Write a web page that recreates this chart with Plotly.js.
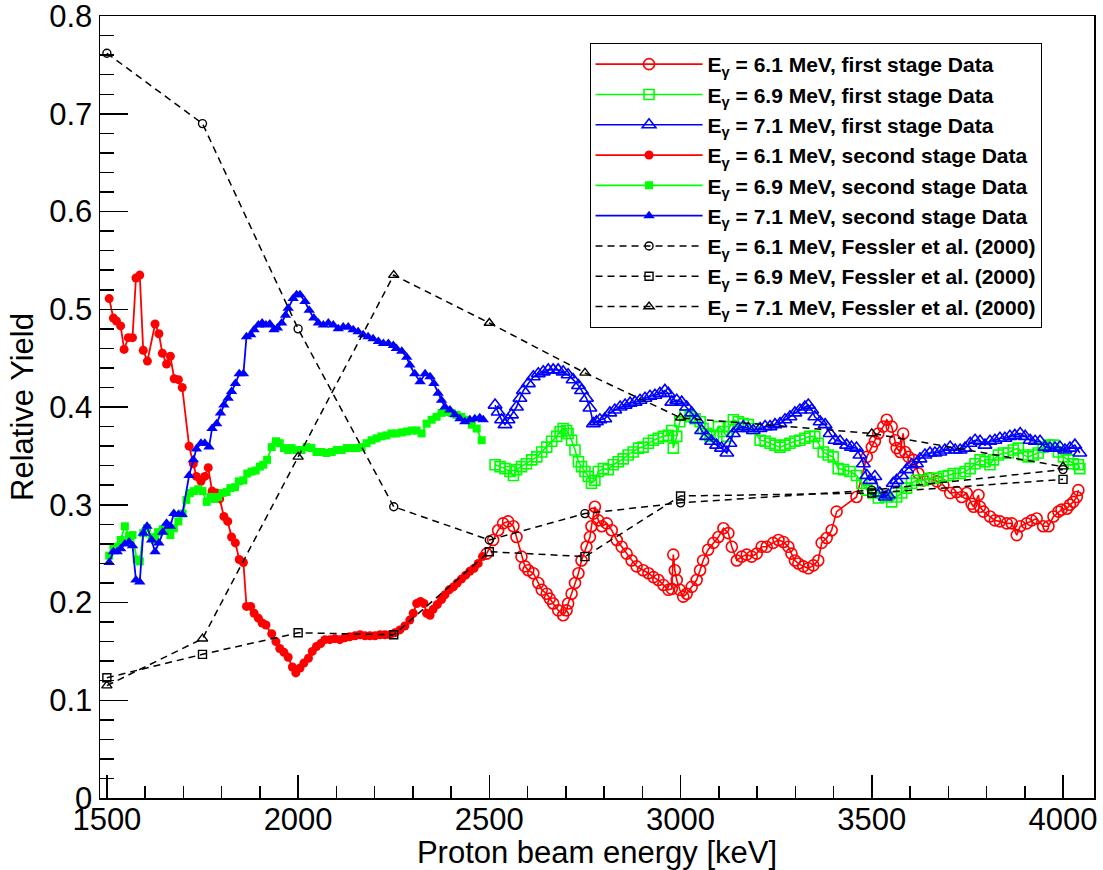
<!DOCTYPE html>
<html><head><meta charset="utf-8">
<script src="https://cdn.plot.ly/plotly-3.0.1.min.js"></script>
<style>html,body{margin:0;padding:0;background:#fff}#chart{width:1103px;height:870px}</style>
</head><body><div id="chart"></div>
<script>
// ---- first stage data (open markers) ----
const red1X = [2493,2510,2523,2536,2549,2563,2571,2584,2593,2602,2615,2628,2637,2650,2658,2667,2680,2693,2702,2706,2715,2724,2733,2741,2754,2763,2767,2772,2776,2785,2794,2807,2820,2833,2846,2859,2872,2885,2902,2916,2929,2942,2955,2968,2977,2981,2985,2990,2998,3007,3016,3029,3042,3051,3059,3072,3086,3099,3112,3125,3134,3147,3160,3173,3186,3199,3212,
  3225,3242,3256,3269,3282,3290,3299,3308,3321,3334,3347,3360,3369,3382,3395,3408,3460,3487,3500,3508,3517,3530,3539,3552,3561,3565,3574,3582,3587,3596,3609,3622,3635,3652,3670,3687,3705,3722,3735,3748,3761,3766,3779,3783,3792,3809,3822,3835,3853,3866,3879,3888,3905,3918,3931,3948,3962,3975,3988,3996,4010,4018,4027,4036,4040];
const red1Y = [0.250,0.264,0.274,0.281,0.283,0.278,0.267,0.247,0.237,0.233,0.230,0.220,0.213,0.209,0.204,0.199,0.192,0.187,0.192,0.199,0.209,0.220,0.230,0.243,0.257,0.267,0.278,0.291,0.298,0.284,0.278,0.281,0.274,0.264,0.257,0.250,0.243,0.237,0.233,0.230,0.226,0.223,0.218,0.213,0.214,0.249,0.233,0.223,0.213,0.206,0.209,0.216,0.223,0.233,0.243,0.254,0.261,0.267,0.276,0.271,0.257,0.243,0.247,0.249,0.247,0.250,0.257,
  0.257,0.261,0.264,0.262,0.257,0.250,0.243,0.240,0.237,0.235,0.238,0.243,0.261,0.266,0.274,0.293,0.308,0.349,0.359,0.365,0.373,0.380,0.387,0.380,0.366,0.358,0.354,0.373,0.354,0.349,0.346,0.332,0.325,0.327,0.324,0.320,0.312,0.313,0.308,0.312,0.301,0.298,0.310,0.298,0.293,0.288,0.284,0.283,0.281,0.281,0.269,0.278,0.281,0.284,0.286,0.278,0.278,0.288,0.293,0.295,0.296,0.300,0.303,0.308,0.315];

const green1X = [2515,2528,2541,2554,2563,2571,2584,2597,2611,2624,2637,2650,2663,2676,2685,2693,2702,2706,2715,2724,2733,2741,2750,2759,2767,2776,2785,2798,2811,2824,2837,2850,2863,2876,2890,2902,2916,2929,2942,2955,2968,2977,2981,2990,2998,3011,3025,3038,3051,3059,3068,3077,3086,3099,3112,3121,3129,3138,3151,3164,3177,3190,
  3208,3221,3234,3247,3260,3273,3286,3299,3312,3325,3338,3351,3360,3373,3386,3399,3412,3426,3443,3460,3474,3487,3504,3517,3535,3552,3565,3578,3591,3604,3617,3635,3652,3670,3687,3700,3713,3731,3744,3757,3770,3783,3796,3809,3818,3831,3844,3857,3870,3883,3896,3909,3922,3935,3948,3962,3975,3988,4001,4014,4027,4040,4044];
const green1Y = [0.341,0.339,0.337,0.334,0.330,0.336,0.339,0.342,0.346,0.349,0.354,0.359,0.365,0.370,0.375,0.378,0.376,0.373,0.366,0.356,0.344,0.339,0.334,0.329,0.322,0.325,0.334,0.337,0.336,0.341,0.344,0.347,0.351,0.354,0.358,0.359,0.363,0.366,0.368,0.370,0.371,0.376,0.358,0.370,0.385,0.392,0.390,0.388,0.385,0.378,0.373,0.370,0.371,0.380,0.375,0.370,0.380,0.387,0.385,0.383,0.382,0.378,
  0.366,0.365,0.363,0.361,0.359,0.361,0.363,0.365,0.366,0.368,0.370,0.370,0.363,0.354,0.351,0.349,0.337,0.336,0.334,0.330,0.322,0.315,0.312,0.307,0.308,0.303,0.308,0.312,0.317,0.322,0.325,0.325,0.327,0.327,0.329,0.330,0.332,0.332,0.334,0.337,0.342,0.346,0.344,0.341,0.346,0.351,0.353,0.353,0.356,0.358,0.351,0.349,0.351,0.353,0.359,0.361,0.361,0.354,0.349,0.346,0.342,0.341,0.337];

const blue1X = [2515,2523,2532,2541,2549,2558,2571,2580,2589,2602,2615,2628,2641,2654,2667,2680,2693,2706,2719,2733,2741,2754,2763,2772,2780,2789,2802,2815,2828,2842,2855,2868,2881,2894,2907,2920,2933,2946,2959,2968,2977,2990,3003,3016,3029,3042,3055,3068,3081,3094,3107,3121,3129,3138,3151,3164,3177,3190,
  3208,3221,3234,3247,3260,3273,3286,3299,3312,3325,3334,3343,3351,3365,3378,3391,3404,3417,3434,3447,3460,3469,3478,3487,3495,3508,3521,3535,3543,3556,3565,3578,3591,3604,3617,3626,3639,3652,3665,3678,3691,3705,3718,3731,3744,3757,3770,3783,3796,3809,3822,3835,3848,3861,3874,3888,3901,3914,3927,3940,3953,3966,3979,3992,4005,4018,4031,4044];
const blue1Y = [0.402,0.395,0.387,0.382,0.387,0.392,0.400,0.409,0.417,0.424,0.431,0.434,0.436,0.438,0.438,0.438,0.436,0.433,0.428,0.422,0.417,0.409,0.399,0.383,0.385,0.387,0.388,0.394,0.397,0.400,0.402,0.404,0.405,0.407,0.409,0.411,0.412,0.414,0.417,0.414,0.405,0.407,0.405,0.400,0.394,0.387,0.376,0.370,0.365,0.361,0.358,0.353,0.363,0.373,0.378,0.380,0.378,0.376,
  0.378,0.380,0.380,0.382,0.383,0.387,0.390,0.394,0.397,0.400,0.402,0.397,0.390,0.385,0.382,0.373,0.366,0.365,0.361,0.359,0.358,0.351,0.342,0.330,0.325,0.329,0.312,0.308,0.310,0.322,0.325,0.330,0.336,0.341,0.342,0.347,0.351,0.353,0.353,0.354,0.356,0.359,0.356,0.356,0.358,0.363,0.366,0.365,0.361,0.365,0.366,0.368,0.368,0.370,0.371,0.373,0.370,0.366,0.365,0.365,0.359,0.358,0.358,0.359,0.356,0.358,0.361,0.353];

// ---- second stage data (filled markers) ----
const red2X = [1506,1517,1525,1536,1545,1556,1567,1576,1586,1595,1606,1626,1636,1645,1656,1666,1676,1687,1697,1715,1726,1734,1746,1756,1765,1775,1787,1795,1806,1816,1826,1836,1846,1857,1865,1876,1885,1896,1906,1916,1931,1942,1952,1963,1974,1985,1994,2005,2015,2027,2037,2048,2059,2070,2083,2096,2109,2122,2135,2149,2162,2175,2188,2201,2214,2227,2240,2253,2266,2279,2292,2301,2310,2320,2329,2336,2345,2353,2364,2375,2384,2395,2406,2416,2427,2438,2449,2460,2471,2482];
const red2Y = [0.511,0.491,0.488,0.483,0.459,0.471,0.471,0.532,0.535,0.458,0.447,0.485,0.475,0.455,0.444,0.452,0.429,0.428,0.420,0.360,0.342,0.329,0.324,0.329,0.338,0.314,0.312,0.306,0.288,0.283,0.267,0.261,0.244,0.241,0.196,0.196,0.189,0.184,0.179,0.177,0.168,0.160,0.153,0.149,0.144,0.134,0.128,0.133,0.138,0.143,0.150,0.155,0.158,0.162,0.162,0.163,0.162,0.164,0.165,0.166,0.167,0.166,0.166,0.166,0.167,0.167,0.167,0.169,0.172,0.176,0.182,0.189,0.199,0.201,0.199,0.189,0.187,0.193,0.198,0.203,0.208,0.213,0.216,0.220,0.224,0.228,0.232,0.235,0.240,0.247];

const green2X = [1506,1517,1527,1536,1547,1558,1567,1578,1586,1595,1605,1617,1626,1634,1646,1656,1666,1675,1687,1698,1708,1717,1728,1739,1750,1761,1771,1782,1791,1802,1813,1823,1835,1845,1857,1867,1878,1889,1900,1909,1919,1931,1942,1952,1963,1974,1983,1996,2009,2022,2035,2048,2061,2074,2088,2101,2114,2127,2140,2153,2166,2179,2192,2205,2218,2231,2244,2257,2271,2284,2297,2310,2323,2336,2349,2362,2375,2388,2401,2414,2427,2441,2454,2467,2480];
const green2Y = [0.248,0.255,0.257,0.264,0.278,0.268,0.269,0.244,0.242,0.271,0.276,0.267,0.264,0.272,0.275,0.274,0.269,0.276,0.283,0.291,0.305,0.312,0.314,0.316,0.314,0.303,0.308,0.306,0.308,0.312,0.313,0.317,0.318,0.324,0.325,0.332,0.334,0.335,0.339,0.341,0.346,0.359,0.365,0.363,0.358,0.356,0.358,0.356,0.356,0.359,0.358,0.354,0.354,0.353,0.354,0.356,0.356,0.358,0.358,0.358,0.359,0.363,0.366,0.368,0.370,0.371,0.373,0.373,0.374,0.375,0.376,0.376,0.373,0.383,0.387,0.390,0.394,0.395,0.394,0.392,0.390,0.387,0.382,0.378,0.366];

const blue2X = [1506,1517,1527,1536,1547,1558,1567,1576,1586,1595,1605,1617,1626,1636,1646,1656,1666,1675,1687,1697,1715,1726,1734,1746,1756,1767,1775,1787,1797,1806,1817,1826,1836,1846,1857,1865,1876,1885,1896,1906,1916,1926,1937,1946,1957,1967,1974,1987,1996,2005,2018,2029,2041,2053,2066,2079,2092,2105,2118,2131,2144,2157,2170,2183,2196,2210,2223,2236,2249,2257,2271,2284,2292,2305,2319,2332,2345,2355,2366,2375,2384,2397,2410,2423,2436,2449,2462,2475,2484];
const blue2Y = [0.241,0.252,0.252,0.255,0.260,0.262,0.258,0.223,0.221,0.271,0.278,0.264,0.252,0.261,0.272,0.281,0.278,0.291,0.290,0.290,0.330,0.346,0.357,0.363,0.363,0.359,0.378,0.383,0.394,0.402,0.409,0.416,0.424,0.434,0.434,0.472,0.474,0.479,0.484,0.486,0.484,0.485,0.479,0.481,0.486,0.494,0.501,0.511,0.515,0.515,0.508,0.499,0.491,0.486,0.484,0.486,0.484,0.480,0.482,0.482,0.479,0.477,0.474,0.472,0.470,0.467,0.465,0.465,0.463,0.460,0.457,0.451,0.443,0.434,0.426,0.434,0.431,0.424,0.414,0.407,0.400,0.397,0.392,0.388,0.385,0.387,0.388,0.389,0.387];

// ---- Fessler et al. (2000) ----
const fesslerX = [1500,1750,2000,2250,2500,2750,3000,3500,4000];
const fessler61 = [0.762,0.690,0.480,0.298,0.264,0.291,0.302,0.315,0.336];
const fessler69 = [0.123,0.147,0.169,0.167,0.252,0.247,0.309,0.312,0.326];
const fessler71 = [0.115,0.163,0.349,0.535,0.486,0.435,0.389,0.373,0.339];

const legendNames = [
  'E<sub>γ</sub> = 6.1 MeV, first stage Data',
  'E<sub>γ</sub> = 6.9 MeV, first stage Data',
  'E<sub>γ</sub> = 7.1 MeV, first stage Data',
  'E<sub>γ</sub> = 6.1 MeV, second stage Data',
  'E<sub>γ</sub> = 6.9 MeV, second stage Data',
  'E<sub>γ</sub> = 7.1 MeV, second stage Data',
  'E<sub>γ</sub> = 6.1 MeV, Fessler et al. (2000)',
  'E<sub>γ</sub> = 6.9 MeV, Fessler et al. (2000)',
  'E<sub>γ</sub> = 7.1 MeV, Fessler et al. (2000)'
];

function tr(name, x, y, color, symbol, size, lw, dash, mlw) {
  return {type:'scatter', mode:'lines+markers', name:name, x:x, y:y,
    line:{color:color, width:lw, dash:dash||'solid'},
    marker:{color:color, symbol:symbol, size:size, line:{color:color, width:mlw}},
    hoverinfo:'x+y'};
}
const data = [
  tr(legendNames[0], red1X, red1Y, '#ff0000', 'circle-open', 11, 1.6, null, 1.6),
  tr(legendNames[1], green1X, green1Y, '#00ff00', 'square-open', 10, 1.6, null, 1.6),
  tr(legendNames[2], blue1X, blue1Y, '#0000ff', 'triangle-up-open', 12, 1.6, null, 1.6),
  tr(legendNames[3], red2X, red2Y, '#ff0000', 'circle', 9, 1.8, null, 0),
  tr(legendNames[4], green2X, green2Y, '#00ff00', 'square', 8, 1.8, null, 0),
  tr(legendNames[5], blue2X, blue2Y, '#0000ff', 'triangle-up', 10, 1.8, null, 0),
  tr(legendNames[6], fesslerX, fessler61, '#000000', 'circle-open', 8, 1.5, '7px,5px', 1.4),
  tr(legendNames[7], fesslerX, fessler69, '#000000', 'square-open', 8, 1.5, '7px,5px', 1.4),
  tr(legendNames[8], fesslerX, fessler71, '#000000', 'triangle-up-open', 9, 1.5, '7px,5px', 1.4)
];

const FONT = '"Liberation Sans", Arial, Helvetica, sans-serif';
const layout = {
  width:1103, height:870,
  margin:{l:100, r:9, t:16, b:72, pad:0},
  paper_bgcolor:'#fff', plot_bgcolor:'#fff',
  font:{family:FONT, color:'#000', size:31},
  showlegend:true,
  legend:{x:0.4925, y:0.9655, xanchor:'left', yanchor:'top',
    bgcolor:'#fff', bordercolor:'#000', borderwidth:1,
    font:{family:FONT, size:21, color:'#000', weight:'bold'},
    itemwidth:107, tracegroupgap:0},
  xaxis:{range:[1482,4081], tickmode:'linear', tick0:1500, dtick:500,
    ticks:'inside', ticklen:23, tickwidth:1.5, tickcolor:'#000',
    minor:{tickmode:'linear', tick0:1500, dtick:100, ticks:'inside', ticklen:12, tickwidth:1.5, tickcolor:'#000', showgrid:false},
    showline:true, linecolor:'#000', linewidth:1.5, mirror:true,
    showgrid:false, zeroline:false, ticklabelstandoff:-7, ticklabeloverflow:'allow',
    tickfont:{family:FONT, size:31, color:'#000'},
    title:{text:'Proton beam energy [keV]', font:{family:FONT, size:31, color:'#000'}, standoff:1}},
  yaxis:{range:[0,0.8001], tickmode:'linear', tick0:0, dtick:0.1,
    ticks:'inside', ticklen:28, tickwidth:1.5, tickcolor:'#000',
    minor:{tickmode:'linear', tick0:0, dtick:0.02, ticks:'inside', ticklen:14, tickwidth:1.5, tickcolor:'#000', showgrid:false},
    showline:true, linecolor:'#000', linewidth:1.5, mirror:true,
    showgrid:false, zeroline:false, ticklabeloverflow:'allow',
    tickfont:{family:FONT, size:31, color:'#000'},
    title:{text:'Relative Yield', font:{family:FONT, size:31, color:'#000'}, standoff:6}}
};
Plotly.newPlot('chart', data, layout, {displayModeBar:false, staticPlot:true});
</script>
</body></html>
